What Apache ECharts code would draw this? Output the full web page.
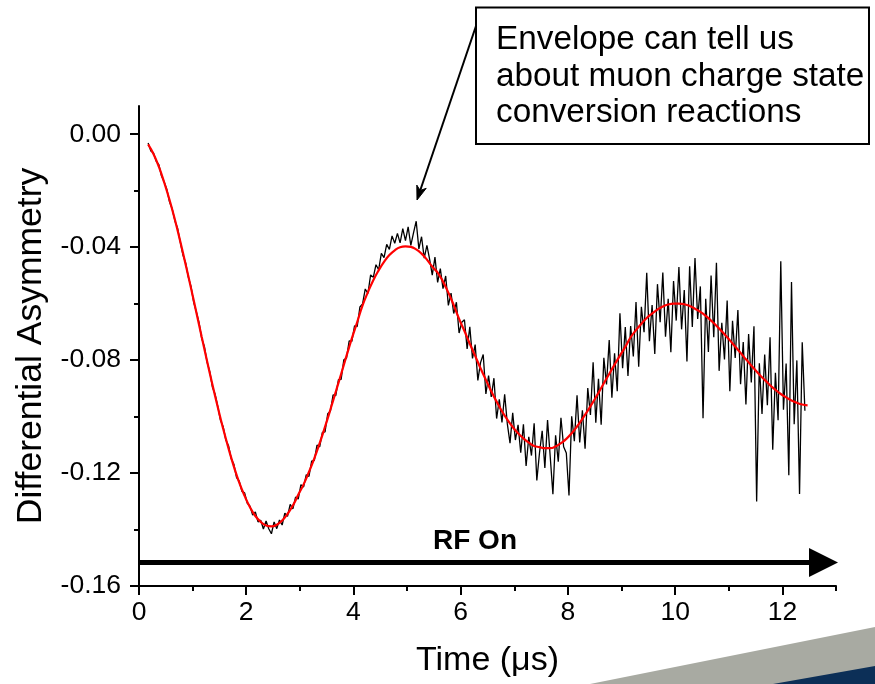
<!DOCTYPE html>
<html>
<head>
<meta charset="utf-8">
<title>Differential Asymmetry vs Time</title>
<script src="https://cdn.jsdelivr.net/npm/echarts@6/dist/echarts.min.js"></script>
<style>
  html, body { margin: 0; padding: 0; background: #fff; }
  #chart { width: 875px; height: 684px; }
</style>
</head>
<body>
<div id="chart"></div>
<script>
// measured asymmetry, sampled every 0.05 us starting at 0.17 us
const measStart = 0.17;
const measStep = 0.05;
const measured = [
  -0.0031, -0.0059, -0.0066, -0.0095, -0.0108, -0.0148, -0.0169, -0.0196, -0.0240, -0.0265,
  -0.0307, -0.0333, -0.0382, -0.0428, -0.0456, -0.0506, -0.0539, -0.0595, -0.0629, -0.0667,
  -0.0724, -0.0752, -0.0807, -0.0841, -0.0896, -0.0921, -0.0965, -0.1013, -0.1036, -0.1083,
  -0.1103, -0.1149, -0.1169, -0.1216, -0.1229, -0.1265, -0.1270, -0.1307, -0.1317, -0.1349,
  -0.1338, -0.1373, -0.1367, -0.1398, -0.1370, -0.1397, -0.1415, -0.1373, -0.1397, -0.1366,
  -0.1384, -0.1342, -0.1353, -0.1311, -0.1327, -0.1285, -0.1292, -0.1241, -0.1249, -0.1206,
  -0.1212, -0.1158, -0.1155, -0.1101, -0.1107, -0.1056, -0.1054, -0.0990, -0.0981, -0.0923,
  -0.0926, -0.0869, -0.0868, -0.0799, -0.0793, -0.0732, -0.0734, -0.0679, -0.0681, -0.0612,
  -0.0601, -0.0548, -0.0564, -0.0498, -0.0507, -0.0462, -0.0480, -0.0422, -0.0437, -0.0390,
  -0.0408, -0.0360, -0.0386, -0.0351, -0.0385, -0.0334, -0.0377, -0.0328, -0.0394, -0.0349,
  -0.0308, -0.0406, -0.0363, -0.0439, -0.0394, -0.0442, -0.0499, -0.0435, -0.0525, -0.0476,
  -0.0547, -0.0502, -0.0606, -0.0563, -0.0635, -0.0595, -0.0704, -0.0666, -0.0657, -0.0760,
  -0.0682, -0.0794, -0.0745, -0.0872, -0.0809, -0.0780, -0.0920, -0.0855, -0.0930, -0.0864,
  -0.1007, -0.0939, -0.1021, -0.0921, -0.1026, -0.1094, -0.0987, -0.1083, -0.1029, -0.1128,
  -0.1027, -0.1175, -0.1072, -0.1138, -0.1024, -0.1226, -0.1128, -0.1050, -0.1182, -0.1012,
  -0.1142, -0.1275, -0.1066, -0.1160, -0.1004, -0.1107, -0.1129, -0.1279, -0.0999, -0.1087,
  -0.0925, -0.1092, -0.0978, -0.1114, -0.0899, -0.0994, -0.0808, -0.1022, -0.0866, -0.1029,
  -0.0792, -0.0886, -0.0729, -0.0933, -0.0776, -0.0910, -0.0634, -0.0829, -0.0683, -0.0856,
  -0.0679, -0.0787, -0.0594, -0.0823, -0.0611, -0.0701, -0.0491, -0.0733, -0.0605, -0.0778,
  -0.0531, -0.0666, -0.0490, -0.0717, -0.0583, -0.0772, -0.0520, -0.0660, -0.0470, -0.0691,
  -0.0552, -0.0805, -0.0468, -0.0683, -0.0438, -0.0654, -0.0539, -0.1006, -0.0583, -0.0771,
  -0.0500, -0.0719, -0.0455, -0.0838, -0.0668, -0.0798, -0.0589, -0.0910, -0.0661, -0.0792,
  -0.0623, -0.0885, -0.0736, -0.0957, -0.0708, -0.0879, -0.0680, -0.1301, -0.0811, -0.0991,
  -0.0780, -0.0960, -0.0719, -0.1117, -0.0845, -0.1013, -0.0450, -0.0976, -0.0812, -0.1208,
  -0.0523, -0.1027, -0.0801, -0.1274, -0.0737, -0.0979
];

// fitted envelope curve, sampled every 0.1 us starting at 0.17 us
const fitStart = 0.17;
const fitStep = 0.1;
const fitCurve = [
  -0.0036, -0.0070, -0.0115, -0.0171, -0.0233, -0.0303, -0.0380, -0.0461, -0.0545, -0.0631,
  -0.0718, -0.0804, -0.0887, -0.0967, -0.1043, -0.1113, -0.1177, -0.1234, -0.1281, -0.1321,
  -0.1352, -0.1373, -0.1386, -0.1389, -0.1383, -0.1368, -0.1345, -0.1315, -0.1277, -0.1240,
  -0.1196, -0.1148, -0.1094, -0.1036, -0.0975, -0.0912, -0.0849, -0.0785, -0.0723, -0.0665,
  -0.0606, -0.0559, -0.0517, -0.0482, -0.0452, -0.0428, -0.0411, -0.0400, -0.0397, -0.0399,
  -0.0408, -0.0423, -0.0444, -0.0469, -0.0490, -0.0522, -0.0561, -0.0605, -0.0654, -0.0697,
  -0.0742, -0.0785, -0.0829, -0.0870, -0.0910, -0.0947, -0.0981, -0.1011, -0.1037, -0.1059,
  -0.1077, -0.1092, -0.1104, -0.1108, -0.1112, -0.1112, -0.1106, -0.1094, -0.1079, -0.1059,
  -0.1035, -0.1008, -0.0979, -0.0948, -0.0916, -0.0882, -0.0849, -0.0816, -0.0784, -0.0753,
  -0.0719, -0.0694, -0.0671, -0.0651, -0.0635, -0.0621, -0.0610, -0.0603, -0.0600, -0.0600,
  -0.0602, -0.0608, -0.0618, -0.0629, -0.0643, -0.0660, -0.0678, -0.0698, -0.0719, -0.0741,
  -0.0763, -0.0786, -0.0808, -0.0830, -0.0851, -0.0870, -0.0889, -0.0905, -0.0920, -0.0932,
  -0.0943, -0.0951, -0.0957, -0.0960
];

const xMajorTicks = [0, 2, 4, 6, 8, 10, 12];
const xMinorTicks = [1, 3, 5, 7, 9, 11, 13];
const yMajorTicks = [-0.16, -0.12, -0.08, -0.04, 0];
const yMinorTicks = [-0.14, -0.10, -0.06, -0.02];

const FONT = '"Liberation Sans", Arial, sans-serif';

const toPairs = (start, step, values) => values.map((v, i) => [+(start + i * step).toFixed(3), v]);

const majorAxis = (ticks) => ({
  type: 'value',
  axisLine: { onZero: false, lineStyle: { color: '#000', width: 2 } },
  axisTick: { customValues: ticks, length: 9, lineStyle: { color: '#000', width: 2 } },
  splitLine: { show: false },
  minorTick: { show: false }
});

const minorAxis = (ticks) => ({
  type: 'value',
  offset: 0,
  axisLine: { show: false, onZero: false },
  axisTick: { customValues: ticks, length: 5, lineStyle: { color: '#000', width: 2 } },
  axisLabel: { show: false },
  splitLine: { show: false }
});

const chart = echarts.init(document.getElementById('chart'), null, { renderer: 'canvas' });

const option = {
  animation: false,
  backgroundColor: '#fff',
  grid: { left: 139, right: 39, top: 106, bottom: 98, containLabel: false, outerBoundsMode: 'none' },
  xAxis: [
    Object.assign(majorAxis(xMajorTicks), {
      min: 0, max: 13, position: 'bottom',
      axisLabel: { customValues: xMajorTicks, color: '#000', fontSize: 26.5, fontFamily: FONT, margin: 13 },
      name: 'Time (μs)',
      nameLocation: 'middle',
      nameGap: 58,
      nameTextStyle: { color: '#000', fontSize: 34, fontFamily: FONT }
    }),
    Object.assign(minorAxis(xMinorTicks), { min: 0, max: 13, position: 'bottom' })
  ],
  yAxis: [
    Object.assign(majorAxis(yMajorTicks), {
      min: -0.16, max: 0.01, position: 'left',
      axisLabel: {
        customValues: yMajorTicks, color: '#000', fontSize: 26.5, fontFamily: FONT, margin: 18,
        formatter: (v) => v.toFixed(2)
      },
      name: 'Differential Asymmetry',
      nameLocation: 'middle',
      nameGap: 80,
      nameTextStyle: { color: '#000', fontSize: 35.5, fontFamily: FONT }
    }),
    Object.assign(minorAxis(yMinorTicks), { min: -0.16, max: 0.01, position: 'left' })
  ],
  series: [
    {
      name: 'data',
      type: 'line',
      data: toPairs(measStart, measStep, measured),
      showSymbol: false,
      symbol: 'none',
      lineStyle: { color: '#000', width: 1.3 },
      z: 2
    },
    {
      name: 'fit',
      type: 'line',
      data: toPairs(fitStart, fitStep, fitCurve),
      smooth: true,
      showSymbol: false,
      symbol: 'none',
      lineStyle: { color: '#ff0000', width: 2.2 },
      z: 3
    }
  ],
  graphic: [
    // slide decoration bottom right
    { type: 'polygon', z: 0, shape: { points: [[590, 684], [875, 627], [875, 684]] }, style: { fill: '#a8aaa2' } },
    { type: 'polygon', z: 1, shape: { points: [[773, 684], [875, 666], [875, 684]] }, style: { fill: '#0c2f57' } },
    // RF On arrow
    { type: 'line', z: 10, shape: { x1: 140, y1: 562.5, x2: 812, y2: 562.5 }, style: { stroke: '#000', lineWidth: 5 } },
    { type: 'polygon', z: 10, shape: { points: [[809, 548], [838, 562.5], [809, 577]] }, style: { fill: '#000' } },
    { type: 'text', z: 10, x: 475, y: 541, style: { text: 'RF On', fill: '#000', font: 'bold 28px ' + FONT, align: 'center', verticalAlign: 'middle' } },
    // annotation arrow and box
    { type: 'line', z: 10, shape: { x1: 476, y1: 26, x2: 420.2, y2: 190.5 }, style: { stroke: '#000', lineWidth: 2 } },
    { type: 'polygon', z: 10, shape: { points: [[417, 200], [426.2, 188.3], [420.2, 190.5], [416.8, 185.1]] }, style: { fill: '#000', stroke: '#000', lineWidth: 1 } },
    { type: 'rect', z: 11, shape: { x: 476, y: 7.5, width: 393, height: 136.5 }, style: { fill: '#fff', stroke: '#000', lineWidth: 2 } },
    {
      type: 'text', z: 12, x: 496, y: 22,
      style: {
        text: 'Envelope can tell us\nabout muon charge state\nconversion reactions',
        fill: '#000', font: '33.3px ' + FONT, lineHeight: 36.3, align: 'left', verticalAlign: 'top'
      }
    }
  ]
};

chart.setOption(option);
window.addEventListener('resize', () => chart.resize());
</script>
</body>
</html>
